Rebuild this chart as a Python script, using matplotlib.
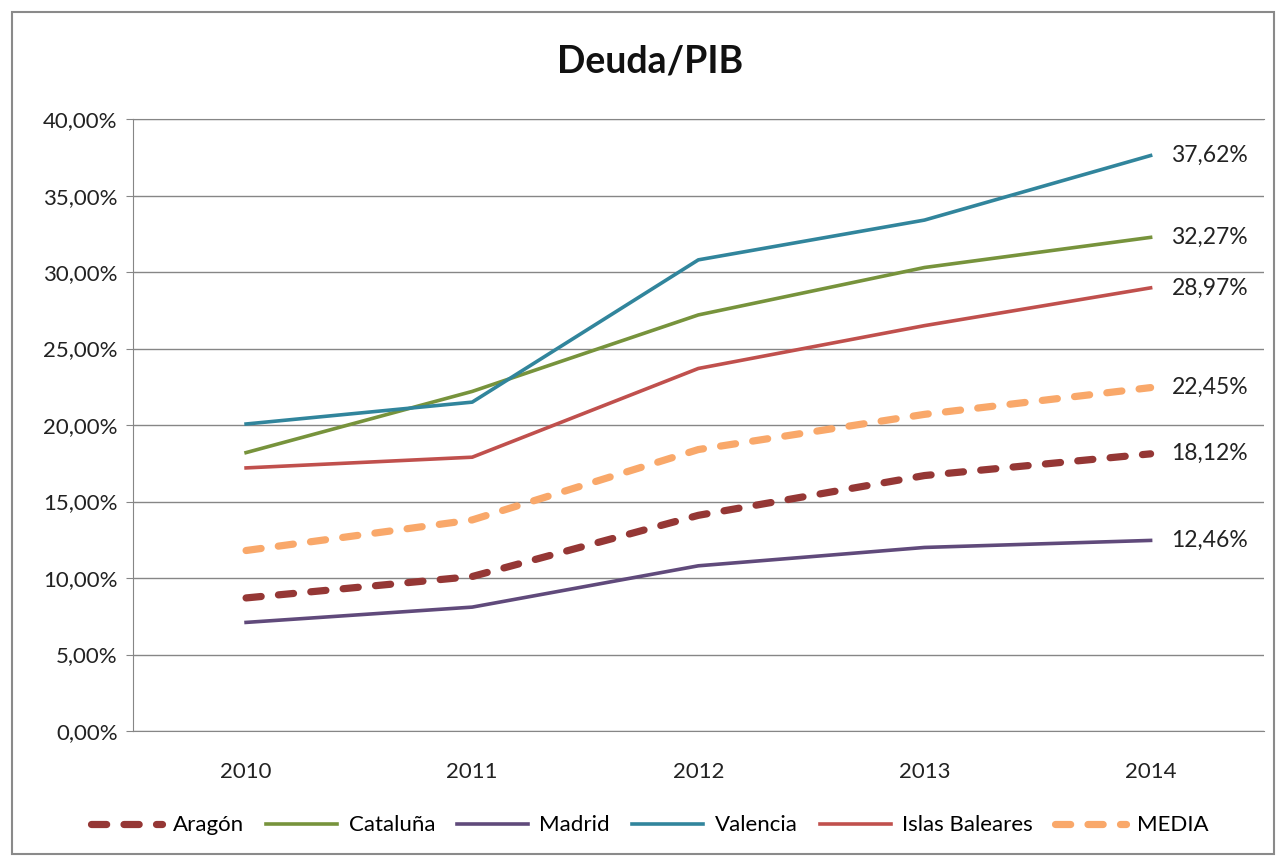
import matplotlib.pyplot as plt
from matplotlib.patches import Rectangle
from matplotlib.ticker import FuncFormatter

plt.rcParams['font.family'] = ['Lato', 'DejaVu Sans']

years = ['2010', '2011', '2012', '2013', '2014']
aragon = [8.7, 10.1, 14.1, 16.7, 18.12]
cataluna = [18.2, 22.2, 27.2, 30.3, 32.27]
madrid = [7.1, 8.1, 10.8, 12.0, 12.46]
valencia = [20.07, 21.5, 30.8, 33.4, 37.62]
baleares = [17.2, 17.9, 23.7, 26.5, 28.97]
media = [11.8, 13.8, 18.4, 20.7, 22.45]

fig = plt.figure(figsize=(12.79, 8.57), dpi=100)
ax = fig.add_axes([0.104, 0.147, 0.884, 0.714])

x = range(len(years))
dash = dict(lw=5.2, dashes=(2.1, 2.4), dash_capstyle='round')
ax.plot(x, aragon, color='#953735', label='Aragón', **dash)
ax.plot(x, cataluna, color='#77933C', lw=2.6, label='Cataluña')
ax.plot(x, madrid, color='#604A7B', lw=2.6, label='Madrid')
ax.plot(x, valencia, color='#31859C', lw=2.6, label='Valencia')
ax.plot(x, baleares, color='#C0504D', lw=2.6, label='Islas Baleares')
ax.plot(x, media, color='#F9A86A', label='MEDIA', **dash)

for s in [valencia, cataluna, baleares, media, aragon, madrid]:
    ax.annotate(f'{s[-1]:.2f}%'.replace('.', ','), (4, s[-1]), xytext=(15, 0),
                textcoords='offset points', va='center', ha='left', fontsize=16.5,
                color='#222222')

ax.set_xlim(-0.5, 4.5)
ax.set_ylim(0, 40)
ax.set_yticks(range(0, 41, 5))
ax.yaxis.set_major_formatter(FuncFormatter(lambda v, p: f'{v:.2f}%'.replace('.', ',')))
ax.set_xticks(list(x))
ax.set_xticklabels(years)
ax.grid(axis='y', color='#868686', lw=1)
ax.set_axisbelow(True)
ax.tick_params(axis='both', labelsize=16, colors='#222222', length=0, pad=10)
ax.tick_params(axis='x', pad=22)
ax.tick_params(axis='y', length=5, color='#868686', direction='out', pad=6)
for sp in ['right']:
    ax.spines[sp].set_visible(False)
for sp in ['left', 'bottom', 'top']:
    ax.spines[sp].set_color('#868686')

fig.text(0.508, 0.928, 'Deuda/PIB', ha='center', va='center', fontsize=27,
         fontweight='bold', color='#111111')

fig.legend(loc='center', bbox_to_anchor=(0.508, 0.037), ncol=6, frameon=False,
           fontsize=16, handlelength=3.2, columnspacing=1.0, handletextpad=0.5)

fig.patches.append(Rectangle((0.009, 0.003), 0.987, 0.983, transform=fig.transFigure,
                             fill=False, edgecolor='#8a8a8a', lw=1.5))

fig.savefig('out.png', dpi=100)
